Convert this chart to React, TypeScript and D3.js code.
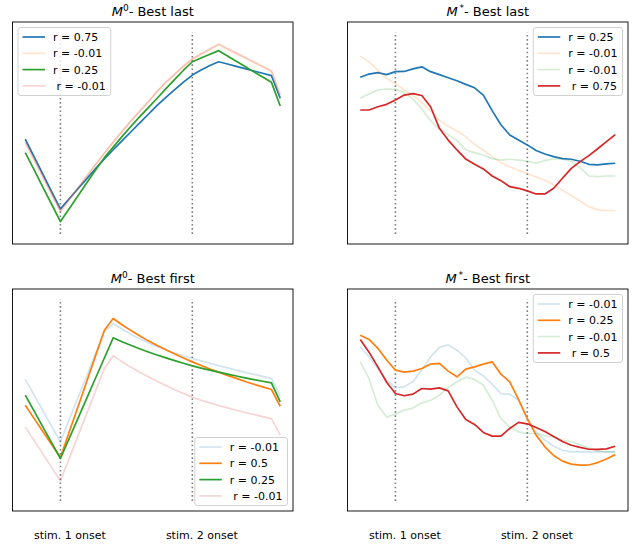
import React, { useEffect, useRef } from "react";
import * as d3 from "d3";

// time axis (samples) and stimulus onsets
const timeSteps = [0, 1, 2, 3, 4, 5, 6, 7, 8, 9, 10, 11, 12, 13, 14, 15, 16, 17, 18, 19, 20, 21, 22, 23, 24, 25, 26, 27, 28, 29];
const stimOnsets = [4, 19];
const stimLabels = ["stim. 1 onset", "stim. 2 onset"];

// M0 - best last
const m0LastBlue = [0.469, 0.383, 0.296, 0.21, 0.124, 0.174, 0.224, 0.274, 0.324, 0.372, 0.417, 0.461, 0.505, 0.549, 0.593, 0.637, 0.677, 0.715, 0.752, 0.787, 0.812, 0.834, 0.853, 0.842, 0.83, 0.819, 0.807, 0.796, 0.784, 0.672];
const m0LastOrange = [0.449, 0.364, 0.28, 0.195, 0.11, 0.168, 0.226, 0.284, 0.342, 0.398, 0.453, 0.506, 0.557, 0.606, 0.654, 0.705, 0.751, 0.791, 0.829, 0.865, 0.889, 0.913, 0.936, 0.914, 0.892, 0.87, 0.848, 0.826, 0.804, 0.68];
const m0LastGreen = [0.403, 0.318, 0.232, 0.147, 0.061, 0.125, 0.189, 0.253, 0.317, 0.378, 0.43, 0.482, 0.532, 0.58, 0.626, 0.672, 0.72, 0.766, 0.811, 0.853, 0.872, 0.89, 0.908, 0.882, 0.856, 0.83, 0.803, 0.777, 0.751, 0.634];
const m0LastRed = [0.456, 0.37, 0.285, 0.199, 0.114, 0.172, 0.23, 0.288, 0.345, 0.401, 0.455, 0.508, 0.559, 0.608, 0.656, 0.706, 0.752, 0.793, 0.832, 0.868, 0.893, 0.917, 0.941, 0.919, 0.897, 0.875, 0.853, 0.831, 0.809, 0.69];

// M* - best last
const mStarLastBlue = [0.776, 0.792, 0.799, 0.789, 0.804, 0.805, 0.818, 0.828, 0.804, 0.789, 0.774, 0.759, 0.741, 0.724, 0.688, 0.611, 0.541, 0.49, 0.465, 0.441, 0.413, 0.396, 0.383, 0.373, 0.37, 0.36, 0.345, 0.342, 0.347, 0.35];
const mStarLastOrange = [0.881, 0.853, 0.812, 0.771, 0.744, 0.714, 0.685, 0.652, 0.609, 0.563, 0.533, 0.51, 0.482, 0.444, 0.416, 0.383, 0.353, 0.333, 0.315, 0.299, 0.282, 0.266, 0.244, 0.216, 0.19, 0.163, 0.135, 0.119, 0.116, 0.116];
const mStarLastGreen = [0.672, 0.693, 0.713, 0.718, 0.716, 0.7, 0.668, 0.619, 0.561, 0.521, 0.492, 0.462, 0.416, 0.403, 0.391, 0.373, 0.366, 0.37, 0.366, 0.361, 0.35, 0.363, 0.373, 0.37, 0.36, 0.328, 0.287, 0.284, 0.287, 0.287];
const mStarLastRed = [0.614, 0.614, 0.63, 0.642, 0.663, 0.688, 0.695, 0.686, 0.63, 0.523, 0.465, 0.416, 0.371, 0.345, 0.322, 0.287, 0.264, 0.234, 0.226, 0.213, 0.198, 0.198, 0.226, 0.276, 0.325, 0.358, 0.388, 0.422, 0.457, 0.492];

// M0 - best first
const m0FirstBlue = [0.602, 0.525, 0.448, 0.37, 0.293, 0.402, 0.511, 0.62, 0.729, 0.838, 0.879, 0.852, 0.826, 0.803, 0.783, 0.765, 0.749, 0.733, 0.719, 0.706, 0.694, 0.682, 0.67, 0.659, 0.648, 0.637, 0.627, 0.617, 0.607, 0.519];
const m0FirstOrange = [0.474, 0.409, 0.344, 0.28, 0.215, 0.341, 0.467, 0.593, 0.72, 0.846, 0.904, 0.873, 0.845, 0.818, 0.793, 0.77, 0.749, 0.728, 0.708, 0.689, 0.671, 0.654, 0.638, 0.622, 0.607, 0.592, 0.578, 0.565, 0.552, 0.469];
const m0FirstGreen = [0.524, 0.446, 0.367, 0.289, 0.21, 0.31, 0.409, 0.509, 0.609, 0.708, 0.808, 0.789, 0.771, 0.754, 0.738, 0.723, 0.709, 0.695, 0.682, 0.669, 0.658, 0.648, 0.638, 0.628, 0.619, 0.61, 0.601, 0.593, 0.585, 0.491];
const m0FirstRed = [0.367, 0.3, 0.233, 0.166, 0.099, 0.21, 0.322, 0.433, 0.545, 0.656, 0.719, 0.69, 0.663, 0.638, 0.615, 0.593, 0.572, 0.551, 0.532, 0.513, 0.499, 0.486, 0.473, 0.461, 0.449, 0.438, 0.428, 0.418, 0.408, 0.326];

// M* - best first
const mStarFirstBlue = [0.764, 0.714, 0.656, 0.598, 0.562, 0.565, 0.592, 0.648, 0.714, 0.761, 0.773, 0.747, 0.709, 0.648, 0.62, 0.579, 0.532, 0.529, 0.499, 0.408, 0.342, 0.301, 0.271, 0.251, 0.243, 0.243, 0.243, 0.243, 0.243, 0.243];
const mStarFirstOrange = [0.821, 0.8, 0.756, 0.698, 0.648, 0.638, 0.643, 0.656, 0.678, 0.681, 0.643, 0.615, 0.653, 0.664, 0.678, 0.689, 0.628, 0.59, 0.503, 0.408, 0.326, 0.268, 0.225, 0.197, 0.182, 0.177, 0.178, 0.19, 0.208, 0.23];
const mStarFirstGreen = [0.689, 0.607, 0.474, 0.416, 0.43, 0.45, 0.46, 0.486, 0.499, 0.524, 0.562, 0.59, 0.613, 0.602, 0.574, 0.499, 0.408, 0.367, 0.342, 0.334, 0.334, 0.324, 0.314, 0.302, 0.293, 0.278, 0.263, 0.248, 0.243, 0.243];
const mStarFirstRed = [0.8, 0.737, 0.664, 0.588, 0.532, 0.521, 0.529, 0.557, 0.554, 0.56, 0.545, 0.466, 0.403, 0.379, 0.339, 0.321, 0.321, 0.359, 0.389, 0.382, 0.364, 0.344, 0.319, 0.294, 0.276, 0.265, 0.256, 0.255, 0.258, 0.271];

const tab = { blue: "#1f77b4", orange: "#ff7f0e", green: "#2ca02c", red: "#d62728" };

const panels = [
  {
    sup: "0", title: "- Best last", col: 0, row: 0, legend: "upper left",
    series: [
      { label: "r = 0.75", color: tab.blue, alpha: 1, values: m0LastBlue },
      { label: "r = -0.01", color: tab.orange, alpha: 0.2, values: m0LastOrange },
      { label: "r = 0.25", color: tab.green, alpha: 1, values: m0LastGreen },
      { label: " r = -0.01", color: tab.red, alpha: 0.2, values: m0LastRed },
    ],
  },
  {
    sup: "*", title: "- Best last", col: 1, row: 0, legend: "upper right",
    series: [
      { label: "r = 0.25", color: tab.blue, alpha: 1, values: mStarLastBlue },
      { label: "r = -0.01", color: tab.orange, alpha: 0.2, values: mStarLastOrange },
      { label: "r = -0.01", color: tab.green, alpha: 0.2, values: mStarLastGreen },
      { label: " r = 0.75", color: tab.red, alpha: 1, values: mStarLastRed },
    ],
  },
  {
    sup: "0", title: "- Best first", col: 0, row: 1, legend: "lower right",
    series: [
      { label: "r = -0.01", color: tab.blue, alpha: 0.2, values: m0FirstBlue },
      { label: "r = 0.5", color: tab.orange, alpha: 1, values: m0FirstOrange },
      { label: "r = 0.25", color: tab.green, alpha: 1, values: m0FirstGreen },
      { label: " r = -0.01", color: tab.red, alpha: 0.2, values: m0FirstRed },
    ],
  },
  {
    sup: "*", title: "- Best first", col: 1, row: 1, legend: "upper right",
    series: [
      { label: "r = -0.01", color: tab.blue, alpha: 0.2, values: mStarFirstBlue },
      { label: "r = 0.25", color: tab.orange, alpha: 1, values: mStarFirstOrange },
      { label: "r = -0.01", color: tab.green, alpha: 0.2, values: mStarFirstGreen },
      { label: " r = 0.5", color: tab.red, alpha: 1, values: mStarFirstRed },
    ],
  },
];

const W = 641;
const H = 544;
const colLeft = [12.5, 347.5];
const rowTop = [22, 289];
const axW = 280.5;
const axH = 222;
const font = "DejaVu Sans, sans-serif";

const App = () => {
  const ref = useRef<SVGSVGElement>(null);

  useEffect(() => {
    const svg = d3.select(ref.current);
    svg.selectAll("*").remove();

    const tMin = d3.min(timeSteps) as number;
    const tMax = d3.max(timeSteps) as number;
    const pad = (tMax - tMin) * 0.05;

    panels.forEach((p) => {
      const left = colLeft[p.col];
      const top = rowTop[p.row];
      const g = svg.append("g");

      const x = d3.scaleLinear().domain([tMin - pad, tMax + pad]).range([left, left + axW]);
      const y = d3.scaleLinear().domain([-0.05, 1.05]).range([top + axH, top]);

      // stimulus onset markers
      g.selectAll("line.stim")
        .data(stimOnsets)
        .enter()
        .append("line")
        .attr("x1", (d) => x(d))
        .attr("x2", (d) => x(d))
        .attr("y1", y(0))
        .attr("y2", y(1))
        .attr("stroke", "#7f7f7f")
        .attr("stroke-width", 1.6)
        .attr("stroke-dasharray", "1.6,2.6");

      const line = d3
        .line<number>()
        .x((_, i) => x(timeSteps[i]))
        .y((d) => y(d));

      p.series.forEach((s) => {
        g.append("path")
          .attr("d", line(s.values))
          .attr("fill", "none")
          .attr("stroke", s.color)
          .attr("stroke-opacity", s.alpha)
          .attr("stroke-width", 1.7)
          .attr("stroke-linejoin", "round");
      });

      // frame
      g.append("rect")
        .attr("x", left)
        .attr("y", top)
        .attr("width", axW)
        .attr("height", axH)
        .attr("fill", "none")
        .attr("stroke", "#000")
        .attr("stroke-width", 0.9);

      // title
      const t = g
        .append("text")
        .attr("x", left + axW / 2)
        .attr("y", top - 6)
        .attr("text-anchor", "middle")
        .attr("font-family", font)
        .attr("font-size", 13)
        .attr("fill", "#000");
      t.append("tspan").attr("font-style", "italic").text("M");
      t.append("tspan").attr("dy", -5).attr("font-size", 9).text(p.sup === "*" ? "\u2009*" : "0");
      t.append("tspan").attr("dy", 5).text(p.title);

      // legend
      const rowH = 16.3;
      const lg = g.append("g");
      const box = lg.append("rect");
      const texts: SVGTextElement[] = [];
      p.series.forEach((s, i) => {
        const cy = 9.5 + i * rowH;
        lg.append("line")
          .attr("x1", 4.5)
          .attr("x2", 27)
          .attr("y1", cy)
          .attr("y2", cy)
          .attr("stroke", s.color)
          .attr("stroke-opacity", s.alpha)
          .attr("stroke-width", 1.7);
        const tx = lg
          .append("text")
          .attr("x", 35)
          .attr("y", cy)
          .attr("dy", "0.36em")
          .attr("font-family", font)
          .attr("font-size", 11)
          .style("white-space", "pre")
          .text(s.label);
        texts.push(tx.node() as SVGTextElement);
      });
      const maxW = d3.max(texts, (n) => n.getComputedTextLength()) as number;
      const bw = 35 + maxW + 5;
      const bh = 68;
      box
        .attr("width", bw)
        .attr("height", bh)
        .attr("rx", 2.5)
        .attr("fill", "#fff")
        .attr("fill-opacity", 0.8)
        .attr("stroke", "#cccccc")
        .attr("stroke-width", 0.9);
      const off = 5.5;
      const lx = p.legend === "upper left" ? left + off : left + axW - off - bw;
      const ly = p.legend === "lower right" ? top + axH - off - bh : top + off;
      lg.attr("transform", `translate(${lx},${ly})`);

      // stimulus labels below the bottom row
      if (p.row === 1) {
        g.selectAll("text.stimlabel")
          .data(stimOnsets)
          .enter()
          .append("text")
          .attr("x", (d) => x(d) + 9.5)
          .attr("y", top + axH + 27.5)
          .attr("text-anchor", "middle")
          .attr("font-family", font)
          .attr("font-size", 11)
          .text((_, i) => stimLabels[i]);
      }
    });
  }, []);

  return (
    <svg
      ref={ref}
      width={W}
      height={H}
      style={{ position: "absolute", left: 0, top: 0, display: "block" }}
    ></svg>
  );
};

export default App;
